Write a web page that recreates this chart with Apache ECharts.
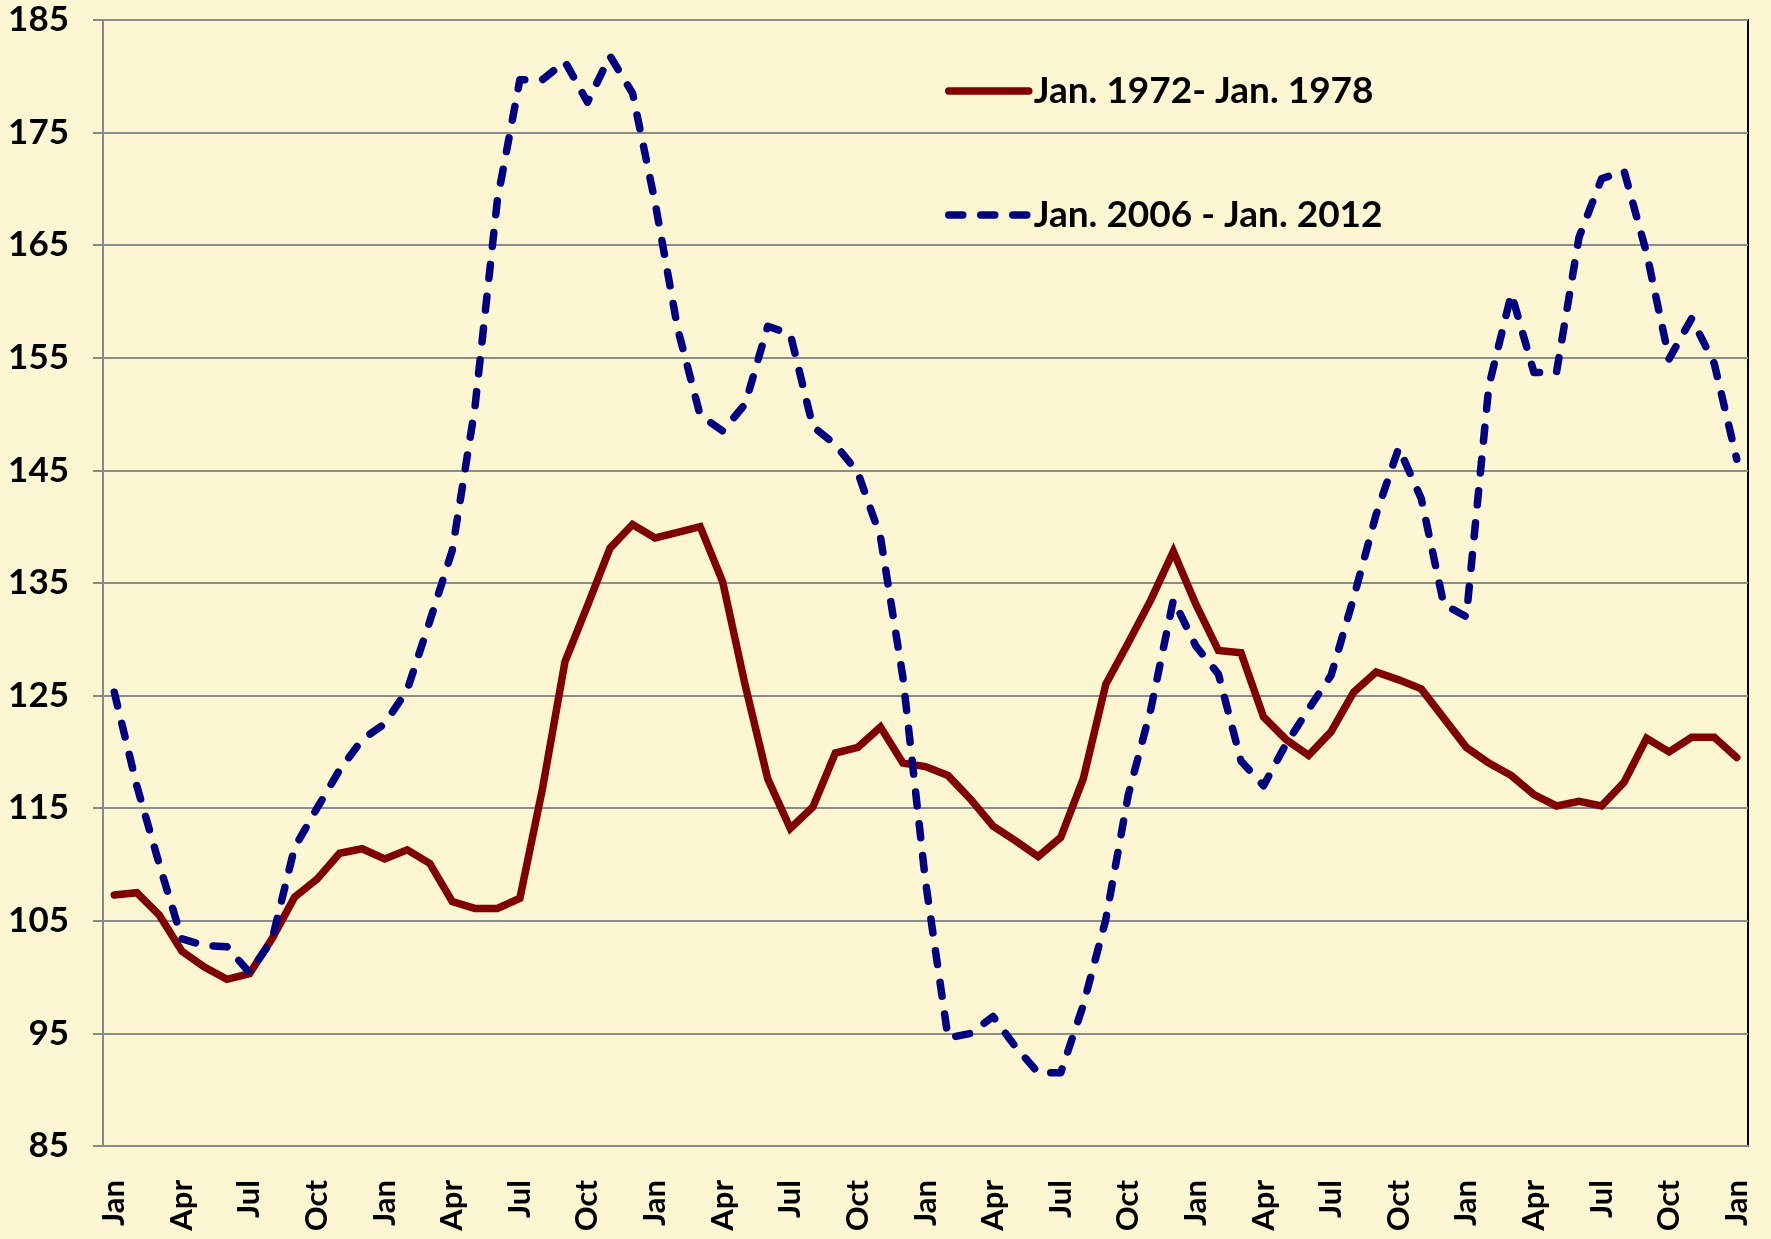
<!DOCTYPE html>
<html>
<head>
<meta charset="utf-8">
<title>Jan. 1972 - Jan. 1978 vs Jan. 2006 - Jan. 2012</title>
<script src="https://cdn.jsdelivr.net/npm/echarts@6/dist/echarts.min.js"></script>
<style>
  html, body { margin: 0; padding: 0; background: #fcf6d3; }
  #chart { width: 1771px; height: 1239px; }
</style>
</head>
<body>
<div id="chart"></div>
<script>
// month names, repeated over the six years (Jan 72 .. Jan 78)
var monthNames = ['Jan', 'Feb', 'Mar', 'Apr', 'May', 'Jun', 'Jul', 'Aug', 'Sep', 'Oct', 'Nov', 'Dec'];
var monthCount = 73;

var seriesNames = ['Jan. 1972- Jan. 1978', 'Jan. 2006 - Jan. 2012'];

// Jan. 1972 - Jan. 1978
var values1972 = [
  107.3, 107.5, 105.5, 102.3, 100.9, 99.8, 100.3, 103.4, 107.1, 108.7, 111.0, 111.4,
  110.5, 111.3, 110.1, 106.7, 106.1, 106.1, 107.0, 116.7, 128.0, 133.0, 138.1, 140.2,
  139.0, 139.5, 140.0, 135.1, 125.9, 117.6, 113.2, 115.1, 119.9, 120.4, 122.2, 119.0,
  118.7, 117.9, 115.8, 113.4, 112.1, 110.7, 112.4, 117.6, 126.0, 129.7, 133.5, 137.8,
  133.1, 129.0, 128.8, 123.1, 121.1, 119.7, 121.8, 125.3, 127.1, 126.4, 125.6, 123.0,
  120.4, 119.0, 117.9, 116.2, 115.2, 115.6, 115.2, 117.3, 121.2, 120.0, 121.3, 121.3,
  119.5
];

// Jan. 2006 - Jan. 2012
var values2006 = [
  125.3, 117.0, 110.0, 103.4, 102.8, 102.7, 100.4, 103.3, 111.5, 115.0, 118.4, 121.1,
  122.5, 125.5, 131.6, 137.9, 150.5, 169.0, 179.7, 179.7, 181.3, 177.7, 181.8, 178.5,
  168.8, 157.6, 149.9, 148.5, 150.9, 157.8, 157.1, 148.9, 147.3, 144.8, 139.1, 126.6,
  108.5, 94.6, 95.0, 96.5, 93.8, 91.5, 91.5, 97.5, 105.1, 116.2, 123.8, 133.5,
  129.4, 126.9, 119.2, 117.0, 120.7, 123.8, 126.8, 133.7, 141.1, 147.0, 142.5, 133.1,
  132.0, 152.5, 160.7, 153.7, 153.7, 165.7, 170.9, 171.6, 164.3, 154.9, 158.5, 154.5,
  146.0
];

var yMin = 85, yMax = 185, yStep = 10;

var categories = [];
for (var i = 0; i < monthCount; i++) {
  categories.push(monthNames[i % 12]);
}

var font = 'Lato, "Open Sans", sans-serif';

var myChart = echarts.init(document.getElementById('chart'), null, { renderer: 'canvas' });

myChart.setOption({
  backgroundColor: '#fcf6d3',
  animation: false,
  textStyle: { fontFamily: font },
  grid: {
    left: 103, right: 23, top: 20, bottom: 93,
    show: true,
    borderColor: '#000',
    borderWidth: 2
  },
  legend: {
    orient: 'vertical',
    left: 940,
    top: 64,
    itemWidth: 80,
    itemHeight: 14,
    itemGap: 80,
    data: seriesNames,
    // hide the marker dot, keep the line sample
    itemStyle: { opacity: 0 },
    lineStyle: { width: 7.5, cap: 'round' },
    textStyle: {
      fontFamily: font,
      fontSize: 37,
      fontWeight: 'bold',
      color: '#000',
      lineHeight: 44
    }
  },
  xAxis: {
    type: 'category',
    data: categories,
    boundaryGap: true,
    axisLine: { lineStyle: { color: '#888', width: 2 } },
    axisTick: { interval: 0, length: 10, lineStyle: { color: '#888', width: 2 } },
    axisLabel: {
      interval: 2,
      rotate: 90,
      margin: 34,
      fontFamily: font,
      fontSize: 31,
      fontWeight: 'bold',
      color: '#000'
    },
    splitLine: { show: false }
  },
  yAxis: {
    type: 'value',
    min: yMin,
    max: yMax,
    interval: yStep,
    axisLine: { show: true, lineStyle: { color: '#888', width: 2 } },
    axisTick: { show: true, length: 10, lineStyle: { color: '#888', width: 2 } },
    axisLabel: {
      margin: 34,
      fontFamily: font,
      fontSize: 35,
      fontWeight: 'bold',
      color: '#000'
    },
    splitLine: { lineStyle: { color: '#8c8c8c', width: 2 } }
  },
  series: [
    {
      name: seriesNames[0],
      type: 'line',
      data: values1972,
      symbol: 'none',
      lineStyle: { color: '#800000', width: 7.5, join: 'miter', cap: 'round' },
      itemStyle: { color: '#800000' },
      z: 3
    },
    {
      name: seriesNames[1],
      type: 'line',
      data: values2006,
      symbol: 'none',
      lineStyle: { color: '#000080', width: 7.5, type: [14, 18], cap: 'round', join: 'round' },
      itemStyle: { color: '#000080' },
      z: 4
    }
  ]
});
</script>
</body>
</html>
